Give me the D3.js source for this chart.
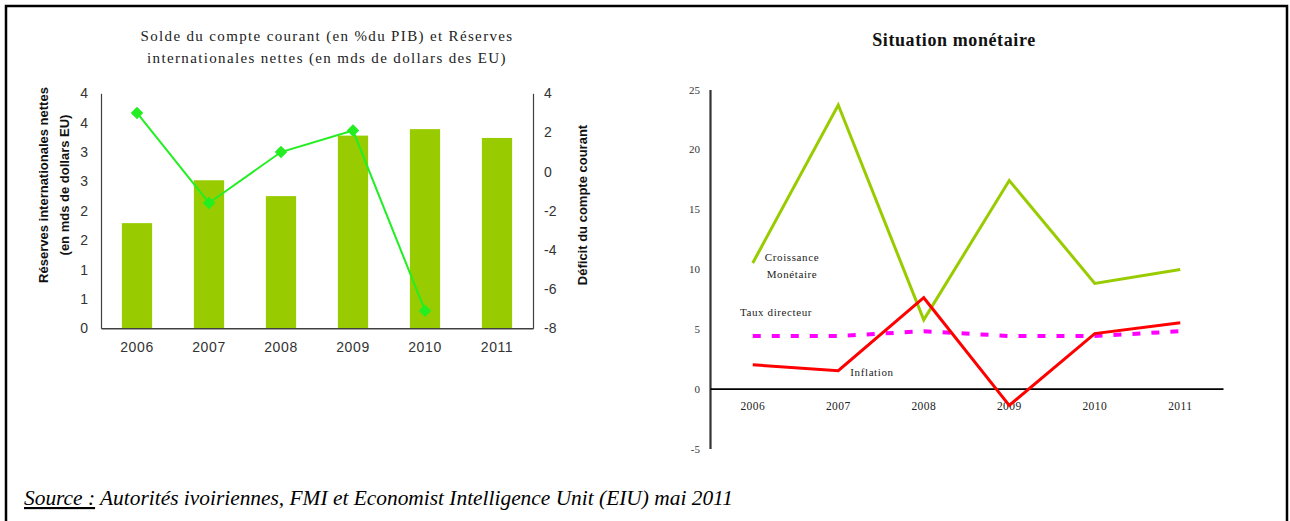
<!DOCTYPE html>
<html>
<head>
<meta charset="utf-8">
<script src="https://cdn.jsdelivr.net/npm/d3@7"></script>
<style>
  body { margin: 0; background: #fff; }
  svg { display: block; }
</style>
</head>
<body>
<script>
var svg_width  = 1290;
var svg_height = 521;

// --- data (left chart) ---
var years = ["2006", "2007", "2008", "2009", "2010", "2011"];
var reserves = [1.79, 2.52, 2.25, 3.28, 3.39, 3.24];      // mds USD
var soldeCourant = [3.0, -1.6, 1.0, 2.1, -7.1, null];      // % du PIB
var reserveTicks = [0, 0.5, 1, 1.5, 2, 2.5, 3, 3.5, 4];
var soldeTicks = [-8, -6, -4, -2, 0, 2, 4];

// --- data (right chart) ---
var croissance = [10.5, 23.7, 5.75, 17.4, 8.8, 9.95];
var inflation = [2.0, 1.5, 7.6, -1.4, 4.6, 5.5];
var tauxDirecteur = [4.4, 4.4, 4.8, 4.4, 4.4, 4.8];
var monetTicks = [-5, 0, 5, 10, 15, 20, 25];

var svg = d3.select('body').append('svg')
            .attr('width', svg_width)
            .attr('height', svg_height);

// frame
svg.append("path")
   .attr("d", "M6,530 V6 H1287 V530")
   .attr("fill", "none")
   .attr("stroke", "#000")
   .attr("stroke-width", 2.5);

var sans = "'Liberation Sans', Arial, sans-serif";
var serif = "'Liberation Serif', 'Times New Roman', serif";
var plain = d => String(d);   // hyphen minus like the original

// ================= left chart =================
var x = d3.scaleBand().domain(years).range([101, 533])
          .paddingInner(0.58).paddingOuter(0.29);
var y = d3.scaleLinear().domain([0, 4]).range([328.3, 93.3]);
var y2 = d3.scaleLinear().domain([-8, 4]).range([328.3, 93.3]);

var left = svg.append("g");

left.selectAll("rect.bar")
    .data(years)
    .enter().append("rect")
    .attr("class", "bar")
    .attr("x", d => x(d))
    .attr("width", x.bandwidth())
    .attr("y", (d, i) => y(reserves[i]))
    .attr("height", (d, i) => y(0) - y(reserves[i]))
    .attr("fill", "#99cc00");

var gL = left.append("g").attr("transform", "translate(101,0)")
    .call(d3.axisLeft(y).tickValues(reserveTicks).tickSize(0).tickPadding(13)
            .tickFormat(d => Math.round(d)));
var gR = left.append("g").attr("transform", "translate(533,0)")
    .call(d3.axisRight(y2).tickValues(soldeTicks).tickSize(0).tickPadding(11)
            .tickFormat(plain));
var gB = left.append("g").attr("transform", "translate(0,328.3)")
    .call(d3.axisBottom(x).tickSize(0).tickPadding(14));

[gL, gR, gB].forEach(function(g) {
  g.select(".domain").attr("stroke", "#404040").attr("stroke-width", 1.2);
  g.selectAll("text").attr("font-family", sans).attr("font-size", 14)
   .attr("fill", "#333");
});
gB.select(".domain").attr("stroke-width", 1.6);
gB.selectAll("text").attr("letter-spacing", 0.6);

var lineData = years.map((d, i) => ({year: d, v: soldeCourant[i]}))
                    .filter(d => d.v !== null);
var line = d3.line()
    .x(d => x(d.year) + x.bandwidth() / 2)
    .y(d => y2(d.v));

left.append("path")
    .datum(lineData)
    .attr("d", line)
    .attr("fill", "none")
    .attr("stroke", "#22ee22")
    .attr("stroke-width", 2);

left.selectAll("path.diamond")
    .data(lineData)
    .enter().append("path")
    .attr("class", "diamond")
    .attr("d", d3.symbol().type(d3.symbolSquare).size(78))
    .attr("transform", d => "translate(" + (x(d.year) + x.bandwidth() / 2) + "," + y2(d.v) + ") rotate(45)")
    .attr("fill", "#22ee22");

// titles
var t1 = left.append("text")
    .attr("x", 327).attr("y", 41)
    .attr("text-anchor", "middle")
    .attr("font-family", serif).attr("font-size", 15)
    .attr("letter-spacing", 1.35)
    .attr("fill", "#222");
t1.append("tspan").attr("x", 327).text("Solde du compte courant (en %du PIB) et Réserves");
t1.append("tspan").attr("x", 327).attr("dy", 22).text("internationales nettes (en mds de dollars des EU)");

var yt = left.append("text")
    .attr("transform", "translate(48,185) rotate(-90)")
    .attr("text-anchor", "middle")
    .attr("font-family", sans).attr("font-size", 13)
    .attr("font-weight", "bold").attr("fill", "#111");
yt.append("tspan").attr("x", 0).attr("y", 0).text("Réserves internationales nettes");
yt.append("tspan").attr("x", 0).attr("y", 21).text("(en mds de dollars EU)");

left.append("text")
    .attr("transform", "translate(587,205) rotate(-90)")
    .attr("text-anchor", "middle")
    .attr("font-family", sans).attr("font-size", 13)
    .attr("font-weight", "bold").attr("fill", "#111")
    .text("Déficit du compte courant");

// ================= right chart =================
var xr = d3.scaleBand().domain(years).range([710, 1223]);
var yr = d3.scaleLinear().domain([-5, 25]).range([448.5, 89.5]);

var right = svg.append("g");

right.append("text")
    .attr("x", 954).attr("y", 46)
    .attr("text-anchor", "middle")
    .attr("font-family", serif).attr("font-size", 18)
    .attr("font-weight", "bold").attr("letter-spacing", 0.6)
    .attr("fill", "#111")
    .text("Situation monétaire");

var ry = right.append("g").attr("transform", "translate(710,0)")
    .call(d3.axisLeft(yr).tickValues(monetTicks).tickSize(0).tickPadding(10)
            .tickFormat(plain));
ry.select(".domain").attr("stroke", "#333").attr("stroke-width", 2.2);
ry.selectAll("text").attr("font-family", serif).attr("font-size", 11).attr("fill", "#333");

var rx = right.append("g").attr("transform", "translate(0," + yr(0) + ")")
    .call(d3.axisBottom(xr).tickSize(0).tickPadding(13));
rx.select(".domain").attr("stroke", "#000").attr("stroke-width", 1.6);
rx.selectAll("text").attr("font-family", serif).attr("font-size", 11.5)
  .attr("letter-spacing", 0.4).attr("fill", "#222");

var rline = d3.line()
    .x((d, i) => xr(years[i]) + xr.bandwidth() / 2)
    .y(d => yr(d));

right.append("path").datum(tauxDirecteur)
    .attr("d", rline).attr("fill", "none")
    .attr("stroke", "#ff00ff").attr("stroke-width", 4)
    .attr("stroke-dasharray", "8,11");

right.append("path").datum(croissance)
    .attr("d", rline).attr("fill", "none")
    .attr("stroke", "#99cc00").attr("stroke-width", 3);

right.append("path").datum(inflation)
    .attr("d", rline).attr("fill", "none")
    .attr("stroke", "#ff0000").attr("stroke-width", 3);

var seriesLabels = [
  {text: "Croissance", x: 792, y: 261},
  {text: "Monétaire", x: 792, y: 278},
  {text: "Taux directeur", x: 776, y: 316},
  {text: "Inflation", x: 872, y: 376}
];
right.selectAll("text.slab")
    .data(seriesLabels)
    .enter().append("text")
    .attr("class", "slab")
    .attr("x", d => d.x).attr("y", d => d.y)
    .attr("text-anchor", "middle")
    .attr("font-family", serif).attr("font-size", 11)
    .attr("letter-spacing", 0.6).attr("fill", "#222")
    .text(d => d.text);

// source
var src = svg.append("text")
    .attr("x", 24).attr("y", 505)
    .attr("font-family", serif).attr("font-size", 21.4)
    .attr("font-style", "italic").attr("fill", "#000");
src.append("tspan").attr("text-decoration", "underline").text("Source :");
src.append("tspan").text(" Autorités ivoiriennes, FMI et Economist Intelligence Unit (EIU) mai 2011");
</script>
</body>
</html>
